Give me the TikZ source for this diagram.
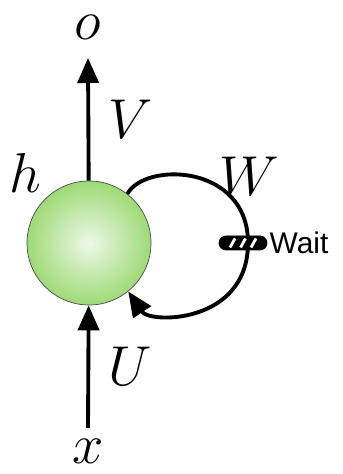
\RequirePackage{fix-cm}
\documentclass[tikz,border=0pt]{standalone}
\usepackage{fontspec}
\usepackage{tikz}
\usetikzlibrary{arrows.meta, positioning, calc}
\newfontfamily\waitfont{Liberation Sans}
\definecolor{CellGreen}{RGB}{158,218,118}
\definecolor{CellLight}{RGB}{238,248,232}

\begin{document}
\begin{tikzpicture}[
        cell/.style={circle,draw=black!70,thin,minimum size=2.48cm,
                     inner color=CellLight,outer color=CellGreen},
        lbl/.style={font=\fontsize{32}{38}\selectfont,inner sep=0pt},
        arr/.style={-{Triangle[length=0.5cm,width=0.42cm]},line width=2.2pt},
        waitbox/.style={draw=black,fill=black,rounded corners=0.14cm,
                        minimum width=0.96cm,minimum height=0.28cm,inner sep=0pt},
        stripe/.style={white,line width=1.6pt}
      ]
        \useasboundingbox (0,0) rectangle (6.84,9.48);
        \node[cell] (h) at (1.78,4.62) {};
        \coordinate (vtip) at (1.76,8.32);
        \coordinate (ubase) at (1.76,0.92);
        \node[lbl] (o) at (1.76,8.94) {$o$};
        \node[lbl] (x) at (1.76,0.46) {$x$};
        \node[lbl] (hl) at (0.50,6.02) {$h$};
        \node[lbl] (wl) at (4.98,5.96) {$W$};
        \draw[arr] (h) -- node[lbl,right=0.36cm]{$V$} (vtip);
        \draw[arr] (ubase) -- node[lbl,right=0.36cm]{$U$} (h);
        % recurrent loop
        \draw[arr] (h.52) .. controls (2.9,6.25) and (4.96,6.2) .. (4.96,4.62)
                   .. controls (4.96,3.0) and (3.0,3.0) .. (h.-51);
        \node[waitbox] (wait) at (4.86,4.62) {};
        \foreach \dx in {-0.21,0.0,0.21}
          \draw[stripe] ($(wait.center)+(\dx-0.05,-0.09)$) -- ++(0.1,0.18);
        \node[font=\waitfont\fontsize{17}{20}\selectfont,right=0.04cm of wait,inner sep=0pt] (waitl) {Wait};
      \end{tikzpicture}
\end{document}
